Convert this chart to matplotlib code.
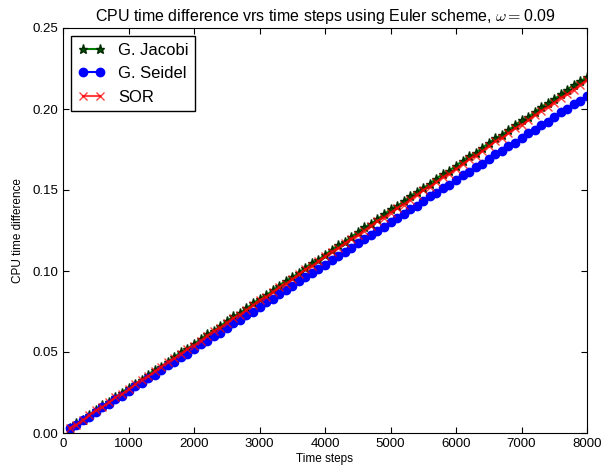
import matplotlib
matplotlib.use("Agg")
import matplotlib.pyplot as plt
from matplotlib.ticker import FormatStrFormatter

plt.rcParams['font.family'] = ['Liberation Sans', 'DejaVu Sans']
plt.rcParams['mathtext.fontset'] = 'cm'

# time steps 100..8000
steps = list(range(100, 8100, 100))

# CPU time differences for each solver
jacobi = [0.003, 0.006, 0.008, 0.011, 0.014, 0.017, 0.019, 0.022, 0.025, 0.028,
          0.030, 0.033, 0.036, 0.039, 0.041, 0.044, 0.047, 0.050, 0.052, 0.055,
          0.058, 0.061, 0.063, 0.066, 0.069, 0.072, 0.074, 0.077, 0.080, 0.083,
          0.085, 0.088, 0.091, 0.094, 0.096, 0.099, 0.102, 0.105, 0.107, 0.110,
          0.113, 0.116, 0.118, 0.121, 0.124, 0.127, 0.129, 0.132, 0.135, 0.138,
          0.140, 0.143, 0.146, 0.149, 0.151, 0.154, 0.157, 0.160, 0.162, 0.165,
          0.168, 0.171, 0.173, 0.176, 0.179, 0.182, 0.184, 0.187, 0.190, 0.193,
          0.195, 0.198, 0.201, 0.204, 0.206, 0.209, 0.212, 0.215, 0.217, 0.220]

seidel = [0.003, 0.005, 0.008, 0.010, 0.013, 0.016, 0.018, 0.021, 0.023, 0.026,
          0.029, 0.031, 0.034, 0.036, 0.039, 0.042, 0.044, 0.047, 0.049, 0.052,
          0.055, 0.057, 0.060, 0.062, 0.065, 0.068, 0.070, 0.073, 0.075, 0.078,
          0.081, 0.083, 0.086, 0.088, 0.091, 0.094, 0.096, 0.099, 0.101, 0.104,
          0.107, 0.109, 0.112, 0.114, 0.117, 0.120, 0.122, 0.125, 0.127, 0.130,
          0.133, 0.135, 0.138, 0.140, 0.143, 0.146, 0.148, 0.151, 0.153, 0.156,
          0.159, 0.161, 0.164, 0.166, 0.169, 0.172, 0.174, 0.177, 0.179, 0.182,
          0.185, 0.187, 0.190, 0.192, 0.195, 0.198, 0.200, 0.203, 0.205, 0.208]

sor = [0.003, 0.005, 0.008, 0.011, 0.014, 0.016, 0.019, 0.022, 0.024, 0.027,
       0.030, 0.033, 0.035, 0.038, 0.041, 0.044, 0.046, 0.049, 0.052, 0.054,
       0.057, 0.060, 0.063, 0.065, 0.068, 0.071, 0.073, 0.076, 0.079, 0.082,
       0.084, 0.087, 0.090, 0.092, 0.095, 0.098, 0.101, 0.103, 0.106, 0.109,
       0.112, 0.114, 0.117, 0.120, 0.122, 0.125, 0.128, 0.131, 0.133, 0.136,
       0.139, 0.141, 0.144, 0.147, 0.150, 0.152, 0.155, 0.158, 0.160, 0.163,
       0.166, 0.169, 0.171, 0.174, 0.177, 0.180, 0.182, 0.185, 0.188, 0.190,
       0.193, 0.196, 0.199, 0.201, 0.204, 0.207, 0.209, 0.212, 0.215, 0.218]

fig = plt.figure(figsize=(6.09, 4.75), dpi=100)
ax = fig.add_axes([63/609, 1-433/475, 524/609, 405/475])

ax.plot(steps, jacobi, '-', color='#008000', marker='*', mfc='#005000', mec='#002a00',
        ms=6.5, label='G. Jacobi')
ax.plot(steps, seidel, 'b-', marker='o', mfc='b', mec='b', ms=6, label='G. Seidel')
ax.plot(steps, sor, '-', color='red', marker='x', ms=5.5, mew=1, alpha=0.75, label='SOR')

ax.set_xlim(0, 8000)
ax.set_ylim(0, 0.25)
ax.set_xticks(range(0, 9000, 1000))
ax.set_yticks([0, 0.05, 0.10, 0.15, 0.20, 0.25])
ax.yaxis.set_major_formatter(FormatStrFormatter('%.2f'))
ax.tick_params(direction='in', top=True, right=True, length=4, labelsize=9.5, pad=3.5)

ax.set_title(r'CPU time difference vrs time steps using Euler scheme, $\omega=$0.09',
             fontsize=11.5, pad=5)
ax.set_xlabel('Time steps', fontsize=8.5, labelpad=2)
ax.set_ylabel('CPU time difference', fontsize=8.5, labelpad=6)

leg = ax.legend(loc='upper left', fontsize=12, handlelength=1.6, numpoints=2,
                fancybox=False, edgecolor='black', framealpha=1)
leg.get_frame().set_linewidth(1.0)

fig.savefig('out.png', dpi=100)
